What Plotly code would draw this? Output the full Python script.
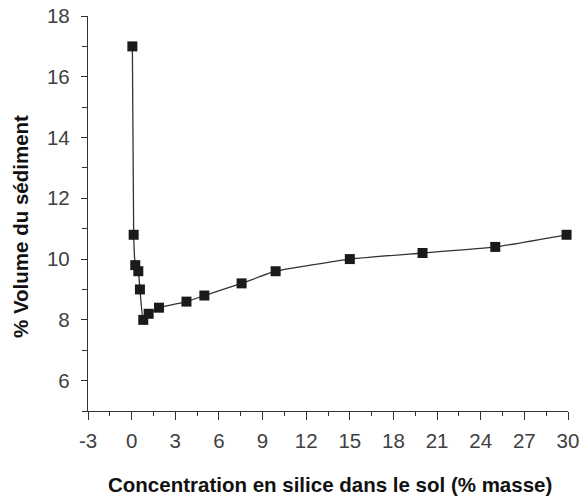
import plotly.graph_objects as go

# Silica concentration in soil (% mass) and sediment volume (%)
silica = [0.05, 0.14, 0.25, 0.46, 0.57, 0.8, 1.17, 1.88, 3.77, 5.0, 7.56, 9.9, 15.0, 20.0, 25.0, 29.9]
volume = [17.0, 10.8, 9.8, 9.6, 9.0, 8.0, 8.2, 8.4, 8.6, 8.8, 9.2, 9.6, 10.0, 10.2, 10.4, 10.8]

x_ticks = list(range(-3, 31, 3))
x_tick_labels = [str(v) for v in x_ticks]
y_ticks = [6, 8, 10, 12, 14, 16, 18]

x_title = "Concentration en silice dans le sol (% masse)"
y_title = "% Volume du sédiment"

fig = go.Figure()
fig.add_trace(go.Scatter(
    x=silica, y=volume,
    mode="lines+markers",
    line=dict(color="#333333", width=1.3, shape="spline", smoothing=0.4),
    marker=dict(symbol="square", size=10, color="#1a1a1a"),
    cliponaxis=False,
    showlegend=False,
))

tick_font = dict(family="Liberation Sans, Arial, sans-serif", size=20.5, color="#404040")
title_font = dict(family="Liberation Sans, Arial, sans-serif", size=20.5, color="#111111",
                  weight="bold")

fig.update_xaxes(
    range=[-3, 30],
    tickvals=x_ticks, ticktext=x_tick_labels,
    ticks="outside", ticklen=8, tickwidth=1.3, tickcolor="#333",
    minor=dict(ticks="outside", ticklen=4, dtick=1.5, tick0=-3, tickcolor="#333"),
    showline=True, linecolor="#333", linewidth=1.3,
    showgrid=False, zeroline=False,
    tickfont=tick_font, ticklabelstandoff=3, ticklabeloverflow="allow",
    automargin=False,
)
fig.update_yaxes(
    range=[5, 18],
    tickvals=y_ticks,
    ticks="outside", ticklen=6, tickwidth=1.3, tickcolor="#333",
    minor=dict(ticks="outside", ticklen=5, dtick=1, tick0=5, tickcolor="#333"),
    showline=True, linecolor="#333", linewidth=1.3,
    showgrid=False, zeroline=False,
    tickfont=tick_font, ticklabelstandoff=7, ticklabeloverflow="allow",
    automargin=False,
)

# Axis titles placed as paper-referenced annotations
fig.add_annotation(text=x_title, xref="paper", yref="paper",
                   x=0.5042, y=-0.185, xanchor="center", yanchor="middle",
                   showarrow=False, font=title_font)
fig.add_annotation(text=y_title, xref="paper", yref="paper",
                   x=-0.142, y=0.468, xanchor="center", yanchor="middle",
                   textangle=-90, showarrow=False, font=title_font)

fig.update_layout(
    width=579, height=497,
    margin=dict(l=88, r=11, t=16, b=86),
    plot_bgcolor="white", paper_bgcolor="white",
)

fig.write_html("out.html")
